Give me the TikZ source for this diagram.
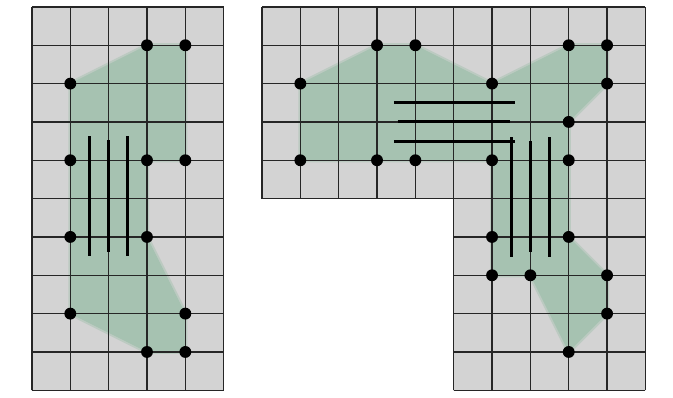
\documentclass[tikz,border=0pt]{standalone}
\usepackage{tikz}

\definecolor{cellgray}{RGB}{211,211,211}
\definecolor{regiongreen}{RGB}{166,194,177}

\begin{document}
\begin{tikzpicture}[x=1cm,y=-1cm,
		gridline/.style={line width=0.9pt,black!85},
		region/.style={fill=regiongreen},
		soft/.style={draw=regiongreen,line width=3pt,opacity=0.5,line join=round},
		bar/.style={line width=2.2pt,black},
		dot/.style={circle,fill=black,inner sep=0pt,minimum size=0.31cm}]
	\useasboundingbox (-0.834,-0.18) rectangle (16.72,10.2);
	% cells
	\fill[cellgray] (0,0) rectangle (5,10);
	\fill[cellgray] (6,0) -- (16,0) -- (16,10) -- (11,10) -- (11,5) -- (6,5) -- cycle;
	% corner points
	\foreach \c/\r/\n in {3/1/la,4/1/lb,1/2/lc,1/4/ld,3/4/le,4/4/lf,1/6/lg,3/6/lh,1/8/li,4/8/lj,3/9/lk,4/9/ll}
		\coordinate (\n) at (\c,\r);
	\foreach \c/\r/\n in {9/1/ra,10/1/rb,14/1/rc,15/1/rd,7/2/re,12/2/rf,15/2/rg,14/3/rh,7/4/ri,9/4/rj,10/4/rk,12/4/rl,14/4/rm,12/6/rn,14/6/ro,12/7/rp,13/7/rq,15/7/rr,15/8/rs,14/9/rt}
		\coordinate (\n) at (\c,\r);
	% regions
	\path[region] (lc) -- (la) -- (lb) -- (lf) -- (le) -- (lh) -- (lj) -- (ll) -- (lk) -- (li) -- cycle;
	\path[soft] (lc) -- (la) -- (lb) -- (lf) -- (le) -- (lh) -- (lj) -- (ll) -- (lk) -- (li) -- cycle;
	\path[region] (re) -- (ra) -- (rb) -- (rf) -- (rc) -- (rd) -- (rg) -- (rh) -- (ro) -- (rr) -- (rs) -- (rt) -- (rq) -- (rp) -- (rl) -- (ri) -- cycle;
	\path[soft] (re) -- (ra) -- (rb) -- (rf) -- (rc) -- (rd) -- (rg) -- (rh) -- (ro) -- (rr) -- (rs) -- (rt) -- (rq) -- (rp) -- (rl) -- (ri) -- cycle;
	% grids
	\draw[gridline] (0,0) grid (5,10);
	\draw[gridline] (6,0) grid (16,5);
	\draw[gridline] (11,5) grid (16,10);
	% bars
	\foreach \x/\a/\b in {1.5/3.38/6.5,2/3.48/6.4,2.5/3.38/6.5,12.5/3.4/6.52,13/3.5/6.4,13.5/3.4/6.52}
		\draw[bar] (\x,\a) -- (\x,\b);
	\foreach \y/\a/\b in {2.5/9.44/12.6,3/9.54/12.48,3.5/9.44/12.6}
		\draw[bar] (\a,\y) -- (\b,\y);
	% dots
	\foreach \n in {la,lb,lc,ld,le,lf,lg,lh,li,lj,lk,ll,ra,rb,rc,rd,re,rf,rg,rh,ri,rj,rk,rl,rm,rn,ro,rp,rq,rr,rs,rt}
		\node[dot] (\n-dot) at (\n) {};
\end{tikzpicture}
\end{document}
